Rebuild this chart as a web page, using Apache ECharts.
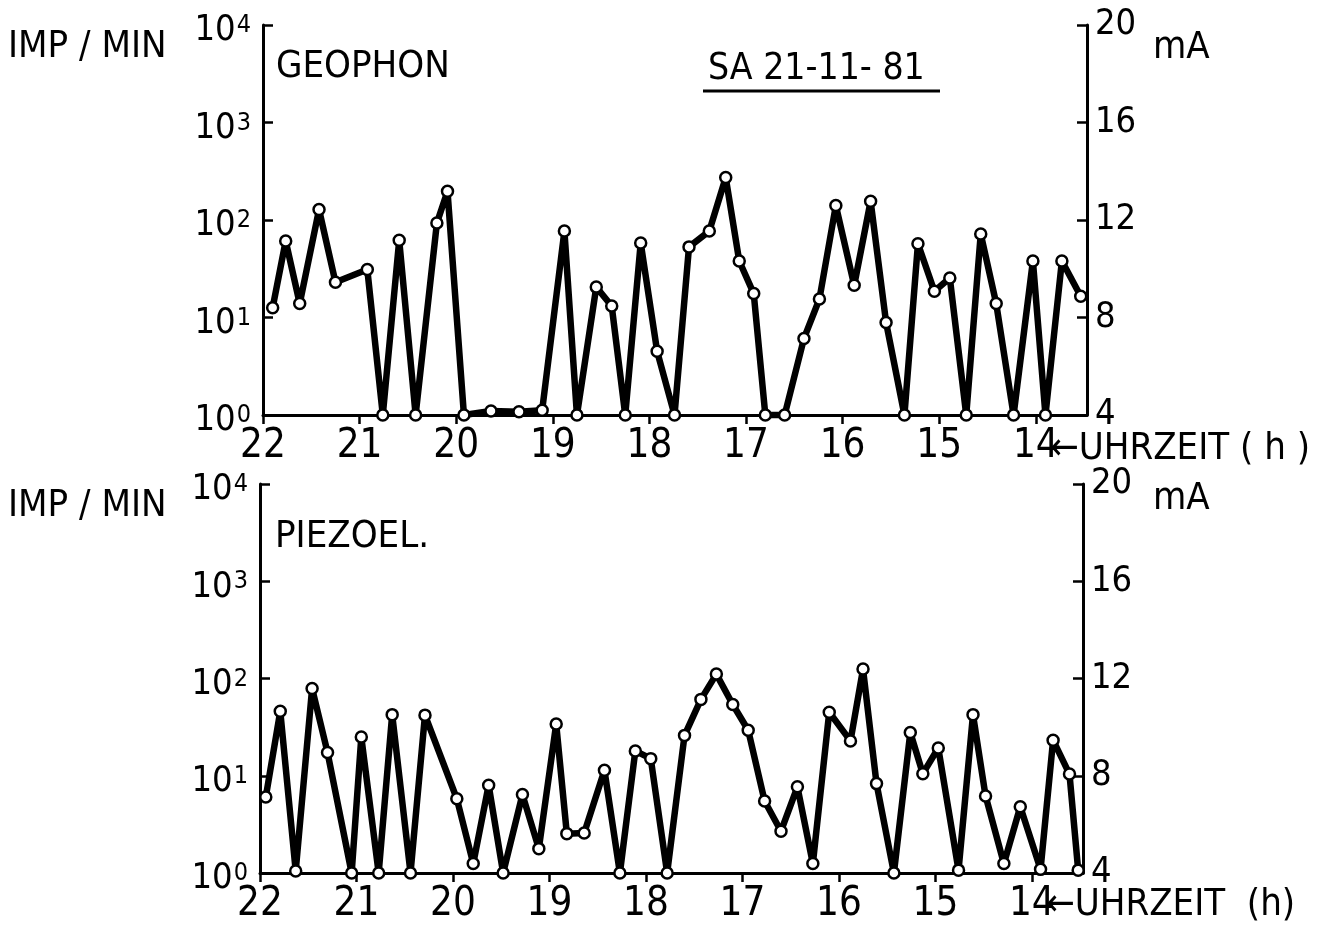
<!DOCTYPE html>
<html>
<head>
<meta charset="utf-8">
<script src="https://cdn.jsdelivr.net/npm/echarts@6/dist/echarts.min.js"></script>
<style>
  html, body { margin: 0; padding: 0; background: #fff; }
  #chart { width: 1330px; height: 925px; }
</style>
</head>
<body>
<div id="chart"></div>
<script>
// GEOPHON – Uhrzeit (h) und Impulse pro Minute
const geoHours = [21.90, 21.765, 21.62, 21.42, 21.25, 20.92, 20.76, 20.59, 20.42, 20.20,
  20.09, 19.92, 19.64, 19.35, 19.11, 18.88, 18.75, 18.55, 18.39, 18.25,
  18.09, 17.92, 17.74, 17.59, 17.38, 17.21, 17.07, 16.92, 16.80, 16.60,
  16.40, 16.24, 16.07, 15.88, 15.71, 15.55, 15.36, 15.22, 15.05, 14.89,
  14.72, 14.57, 14.41, 14.23, 14.03, 13.90, 13.73, 13.535];
const geoImp = [12.6, 61, 13.9, 128, 23, 31, 1, 62, 1, 93,
  197, 1, 1.1, 1.08, 1.12, 77, 1, 20.5, 13.1, 1,
  58, 4.5, 1, 53, 77, 273, 38, 17.6, 1, 1,
  6.1, 15.5, 141, 21.4, 156, 8.9, 1, 57, 18.6, 25.4,
  1, 72, 13.9, 1, 38, 1, 38, 16.5];

// PIEZOEL.
const piezoHours = [21.94, 21.79, 21.63, 21.46, 21.30, 21.05, 20.95, 20.77, 20.63, 20.44,
  20.29, 19.96, 19.79, 19.63, 19.48, 19.28, 19.11, 18.93, 18.82, 18.64,
  18.43, 18.27, 18.11, 17.95, 17.78, 17.60, 17.43, 17.27, 17.10, 16.94,
  16.77, 16.60, 16.43, 16.27, 16.10, 15.88, 15.75, 15.61, 15.43, 15.26,
  15.13, 14.97, 14.76, 14.61, 14.48, 14.29, 14.12, 13.91, 13.78, 13.61,
  13.52];
const piezoImp = [6.05, 46, 1.05, 79, 17.3, 1, 25, 1, 42.5, 1,
  42, 5.8, 1.25, 8.0, 1, 6.4, 1.78, 34, 2.54, 2.58,
  11.4, 1, 18, 15, 1, 26, 61, 111, 54, 29.4,
  5.5, 2.69, 7.7, 1.25, 45, 22.8, 125, 8.3, 1, 27.8,
  10.5, 19.3, 1.07, 42.5, 6.2, 1.25, 4.8, 1.09, 23.2, 10.4,
  1.07];

const hourTicks = [22, 21, 20, 19, 18, 17, 16, 15, 14];
const decadeTicks = [1, 10, 100, 1000, 10000];
const mATicks = [4, 8, 12, 16, 20];

const FONT = '"DejaVu Sans Condensed", "Liberation Sans Narrow", "DejaVu Sans", sans-serif';

const chart = echarts.init(document.getElementById('chart'));

function toPairs(xs, ys) {
  return xs.map((x, i) => [x, ys[i]]);
}

function xAxisFor(gridIndex) {
  return {
    gridIndex,
    type: 'value',
    inverse: true,
    min: 13.47,
    max: 22,
    axisLine: { onZero: false, lineStyle: { color: '#000', width: 3 } },
    axisTick: { customValues: hourTicks, length: 9, lineStyle: { color: '#000', width: 2.5 } },
    axisLabel: { customValues: hourTicks, color: '#000', fontSize: 40, fontFamily: FONT, margin: 12 },
    splitLine: { show: false },
  };
}

function logAxisFor(gridIndex) {
  return {
    gridIndex,
    type: 'log',
    logBase: 10,
    min: 1,
    max: 10000,
    position: 'left',
    axisLine: { show: true, lineStyle: { color: '#000', width: 3 } },
    axisTick: { show: true, inside: true, length: 10, customValues: decadeTicks, lineStyle: { color: '#000', width: 2.5 } },
    minorTick: { show: false },
    axisLabel: {
      customValues: decadeTicks,
      margin: 12,
      padding: [12, 0, 0, 0],
      formatter: (v) => '{b|10}{s|' + Math.round(Math.log10(v)) + '}',
      rich: {
        b: { fontSize: 36, fontFamily: FONT, color: '#000', lineHeight: 36 },
        s: { fontSize: 25, fontFamily: FONT, color: '#000', lineHeight: 22, verticalAlign: 'top', padding: [0, 0, 0, 1] },
      },
    },
    splitLine: { show: false },
  };
}

function mAAxisFor(gridIndex) {
  return {
    gridIndex,
    type: 'value',
    min: 4,
    max: 20,
    interval: 4,
    position: 'right',
    axisLine: { show: true, lineStyle: { color: '#000', width: 3 } },
    axisTick: { show: true, inside: true, length: 10, customValues: mATicks, lineStyle: { color: '#000', width: 2.5 } },
    axisLabel: { customValues: mATicks, color: '#000', fontSize: 36, fontFamily: FONT, margin: 8 },
    splitLine: { show: false },
  };
}

function lineSeries(name, xAxisIndex, yAxisIndex, data) {
  return {
    name,
    type: 'line',
    xAxisIndex,
    yAxisIndex,
    data,
    clip: false,
    symbol: 'circle',
    symbolSize: 11,
    itemStyle: { color: '#fff', borderColor: '#000', borderWidth: 2.5 },
    lineStyle: { color: '#000', width: 6.5 },
    emphasis: { disabled: true },
    z: 3,
  };
}

function label(text, x, y, size) {
  return {
    type: 'text',
    x,
    y,
    style: { text, fontSize: size, fontFamily: FONT, fill: '#000', verticalAlign: 'middle' },
  };
}

chart.setOption({
  backgroundColor: '#fff',
  animation: false,
  grid: [
    { left: 263, top: 25, width: 824, height: 390 },
    { left: 260, top: 484, width: 823, height: 392 },
  ],
  xAxis: [xAxisFor(0), xAxisFor(1)],
  yAxis: [logAxisFor(0), mAAxisFor(0), logAxisFor(1), mAAxisFor(1)],
  series: [
    lineSeries('GEOPHON', 0, 0, toPairs(geoHours, geoImp)),
    lineSeries('PIEZOEL.', 1, 2, toPairs(piezoHours, piezoImp)),
  ],
  graphic: [
    label('IMP / MIN', 8, 47, 38),
    label('GEOPHON', 276, 67, 38),
    label('SA 21-11- 81', 708, 69, 37),
    { type: 'line', shape: { x1: 703, y1: 91, x2: 940, y2: 91 }, style: { stroke: '#000', lineWidth: 3 } },
    label('mA', 1153, 48, 38),
    label('←UHRZEIT ( h )', 1050, 449, 38),
    label('IMP / MIN', 8, 506, 38),
    label('PIEZOEL.', 275, 537, 38),
    label('mA', 1153, 499, 38),
    label('←UHRZEIT  (h)', 1046, 905, 38),
  ],
});

window.addEventListener('resize', () => chart.resize());
</script>
</body>
</html>
